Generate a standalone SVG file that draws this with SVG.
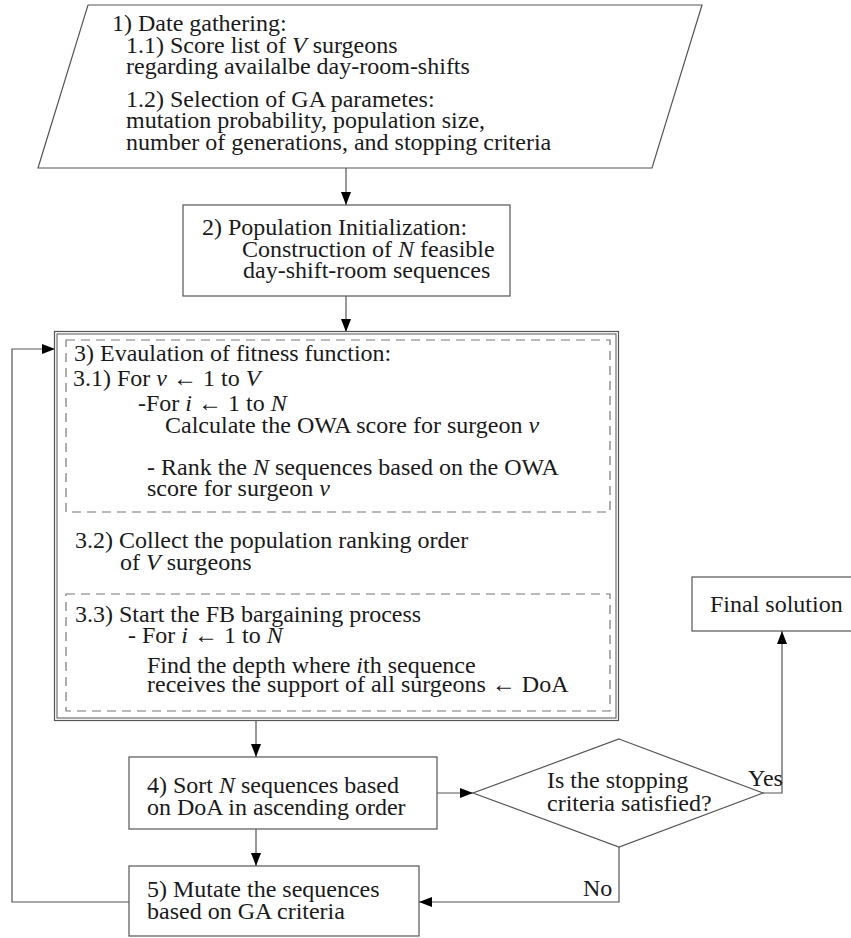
<svg xmlns="http://www.w3.org/2000/svg" width="851" height="938" viewBox="0 0 851 938">
<defs>
<marker id="arr" viewBox="0 0 13 10" refX="13" refY="5" markerWidth="13" markerHeight="10" orient="auto" markerUnits="userSpaceOnUse">
<path d="M0,0 L13,5 L0,10 z" fill="#000"/>
</marker>
<style>
text{font-family:"Liberation Serif","Times New Roman",serif;font-size:24px;fill:#1a1a1a}
.i{font-style:italic}
.box{fill:#fff;stroke:#555;stroke-width:1.2}
.dash{fill:none;stroke:#777;stroke-width:1.2;stroke-dasharray:9 6}
.con{fill:none;stroke:#555;stroke-width:1.2}
</style>
</defs>
<rect width="851" height="938" fill="#fff"/>

<g id="connectors">
<path class="con" d="M346,168 L346,205" marker-end="url(#arr)"/>
<path class="con" d="M346,296 L346,332" marker-end="url(#arr)"/>
<path class="con" d="M256,720 L256,757" marker-end="url(#arr)"/>
<path class="con" d="M256,829 L256,866" marker-end="url(#arr)"/>
<path class="con" d="M437,793 L473,793" marker-end="url(#arr)"/>
<path class="con" d="M619,847 L619,902 L419,902" marker-end="url(#arr)"/>
<path class="con" d="M763,793 L782,793 L782,631" marker-end="url(#arr)"/>
<path class="con" d="M129,902 L12,902 L12,349 L55,349" marker-end="url(#arr)"/>
<text x="748" y="786">Yes</text>
<text x="583" y="896">No</text>
</g>

<g id="node1">
<polygon class="box" points="88,5 702,5 652,168 38,168"/>
<text x="112" y="31">1) Date gathering:</text>
<text x="126" y="53">1.1) Score list of <tspan class="i">V</tspan> surgeons</text>
<text x="126" y="74">regarding availalbe day-room-shifts</text>
<text x="126" y="107">1.2) Selection of GA parametes:</text>
<text x="126" y="128">mutation probability, population size,</text>
<text x="126" y="150">number of generations, and stopping criteria</text>
</g>

<g id="node2">
<rect class="box" x="183" y="205" width="327" height="91"/>
<text x="202" y="235">2) Population Initialization:</text>
<text x="242" y="257">Construction of <tspan class="i">N</tspan> feasible</text>
<text x="243" y="278">day-shift-room sequences</text>
</g>

<g id="node3">
<rect class="box" x="54.5" y="331.5" width="564" height="389"/>
<rect fill="none" stroke="#555" stroke-width="1" x="57" y="334" width="559" height="384"/>
<rect class="dash" x="66" y="340" width="544" height="172"/>
<rect class="dash" x="66" y="594" width="544" height="117"/>
<text x="74" y="361">3) Evaulation of fitness function:</text>
<text x="73" y="386">3.1) For <tspan class="i">v</tspan> ← 1 to <tspan class="i">V</tspan></text>
<text x="138" y="411">-For <tspan class="i">i</tspan> ← 1 to <tspan class="i">N</tspan></text>
<text x="165" y="433">Calculate the OWA score for surgeon <tspan class="i">v</tspan></text>
<text x="147" y="475">- Rank the <tspan class="i">N</tspan> sequences based on the OWA</text>
<text x="147" y="496">score for surgeon <tspan class="i">v</tspan></text>
<text x="75" y="548">3.2) Collect the population ranking order</text>
<text x="120" y="570">of <tspan class="i">V</tspan> surgeons</text>
<text x="75" y="622">3.3) Start the FB bargaining process</text>
<text x="128" y="643">- For <tspan class="i">i</tspan> ← 1 to <tspan class="i">N</tspan></text>
<text x="147" y="673">Find the depth where <tspan class="i">i</tspan>th sequence</text>
<text x="147" y="692">receives the support of all surgeons ← DoA</text>
</g>

<g id="node4">
<rect class="box" x="129" y="757" width="308" height="72"/>
<text x="147" y="793">4) Sort <tspan class="i">N</tspan> sequences based</text>
<text x="147" y="815">on DoA in ascending order</text>
</g>

<g id="node5">
<rect class="box" x="129" y="866" width="290" height="70"/>
<text x="147" y="897">5) Mutate the sequences</text>
<text x="147" y="919">based on GA criteria</text>
</g>

<g id="decision">
<polygon class="box" points="619,739 763,793 619,847 473,793"/>
<text x="547" y="788">Is the stopping</text>
<text x="547" y="811">criteria satisfied?</text>
</g>

<g id="final">
<rect class="box" x="692" y="577" width="170" height="54"/>
<text x="710" y="612">Final solution</text>
</g>
</svg>
